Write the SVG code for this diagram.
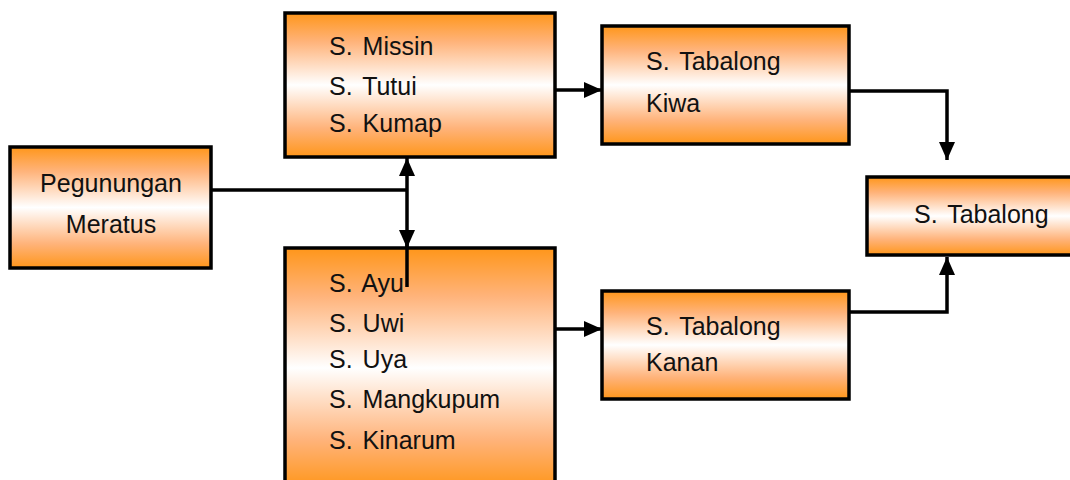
<svg xmlns="http://www.w3.org/2000/svg" width="1070" height="480" viewBox="0 0 1070 480">
<style>
.box{fill:url(#og);stroke:#000;stroke-width:3.5}
.t{font-family:"Liberation Sans",Arial,sans-serif;font-size:25px;fill:#111}
.c{fill:none;stroke:#000;stroke-width:3.5}
</style>
<defs>
<linearGradient id="og" x1="0" y1="0" x2="0" y2="1">
<stop offset="0" stop-color="#ff961a"/>
<stop offset="0.2" stop-color="#ffb37a"/>
<stop offset="0.5" stop-color="#ffffff"/>
<stop offset="0.8" stop-color="#ffb37a"/>
<stop offset="1" stop-color="#ff961a"/>
</linearGradient>
<marker id="arr" markerUnits="userSpaceOnUse" markerWidth="20" markerHeight="18" refX="18" refY="8" orient="auto" viewBox="0 0 20 18">
<path d="M0,0 L18,8 L0,16 z" fill="#000"/>
</marker>
</defs>
<rect width="1070" height="480" fill="#fff"/>
<g id="connectors">
<path class="c" d="M211,190 H407"/>
<path class="c" d="M407,190 V158" marker-end="url(#arr)"/>
<path class="c" d="M407,190 V248" marker-end="url(#arr)"/>
<path class="c" d="M407,240 V287"/>
<path class="c" d="M555,90 H602" marker-end="url(#arr)"/>
<path class="c" d="M555,329 H602" marker-end="url(#arr)"/>
<path class="c" d="M849,91 H947 V160" marker-end="url(#arr)"/>
<path class="c" d="M849,312 H947 V257" marker-end="url(#arr)"/>
</g>
<g id="n-pegunungan">
<rect class="box" x="10" y="147" width="201" height="121"/>
<text class="t" x="111" y="192" text-anchor="middle">Pegunungan</text>
<text class="t" x="111" y="233" text-anchor="middle">Meratus</text>
</g>
<g id="n-missin">
<rect class="box" x="285" y="13" width="270" height="144"/>
<text class="t" x="329" y="55">S. <tspan dx="3">Missin</tspan></text>
<text class="t" x="329" y="95">S. <tspan dx="3">Tutui</tspan></text>
<text class="t" x="329" y="132">S. <tspan dx="3">Kumap</tspan></text>
</g>
<g id="n-ayu">
<rect class="box" x="285" y="248" width="270" height="240"/>
<text class="t" x="329" y="292">S. <tspan dx="3">Ayu</tspan></text>
<text class="t" x="329" y="332">S. <tspan dx="3">Uwi</tspan></text>
<text class="t" x="329" y="368">S. <tspan dx="3">Uya</tspan></text>
<text class="t" x="329" y="408">S. <tspan dx="3">Mangkupum</tspan></text>
<text class="t" x="329" y="449">S. <tspan dx="3">Kinarum</tspan></text>
</g>
<path class="c" d="M407,248 V287"/>
<g id="n-kiwa">
<rect class="box" x="602" y="26" width="247" height="118"/>
<text class="t" x="646" y="70">S. <tspan dx="3">Tabalong</tspan></text>
<text class="t" x="646" y="112">Kiwa</text>
</g>
<g id="n-kanan">
<rect class="box" x="602" y="291" width="247" height="108"/>
<text class="t" x="646" y="335">S. <tspan dx="3">Tabalong</tspan></text>
<text class="t" x="646" y="371">Kanan</text>
</g>
<g id="n-tabalong">
<rect class="box" x="867" y="177" width="215" height="78"/>
<text class="t" x="914" y="223">S. <tspan dx="3">Tabalong</tspan></text>
</g>
</svg>
